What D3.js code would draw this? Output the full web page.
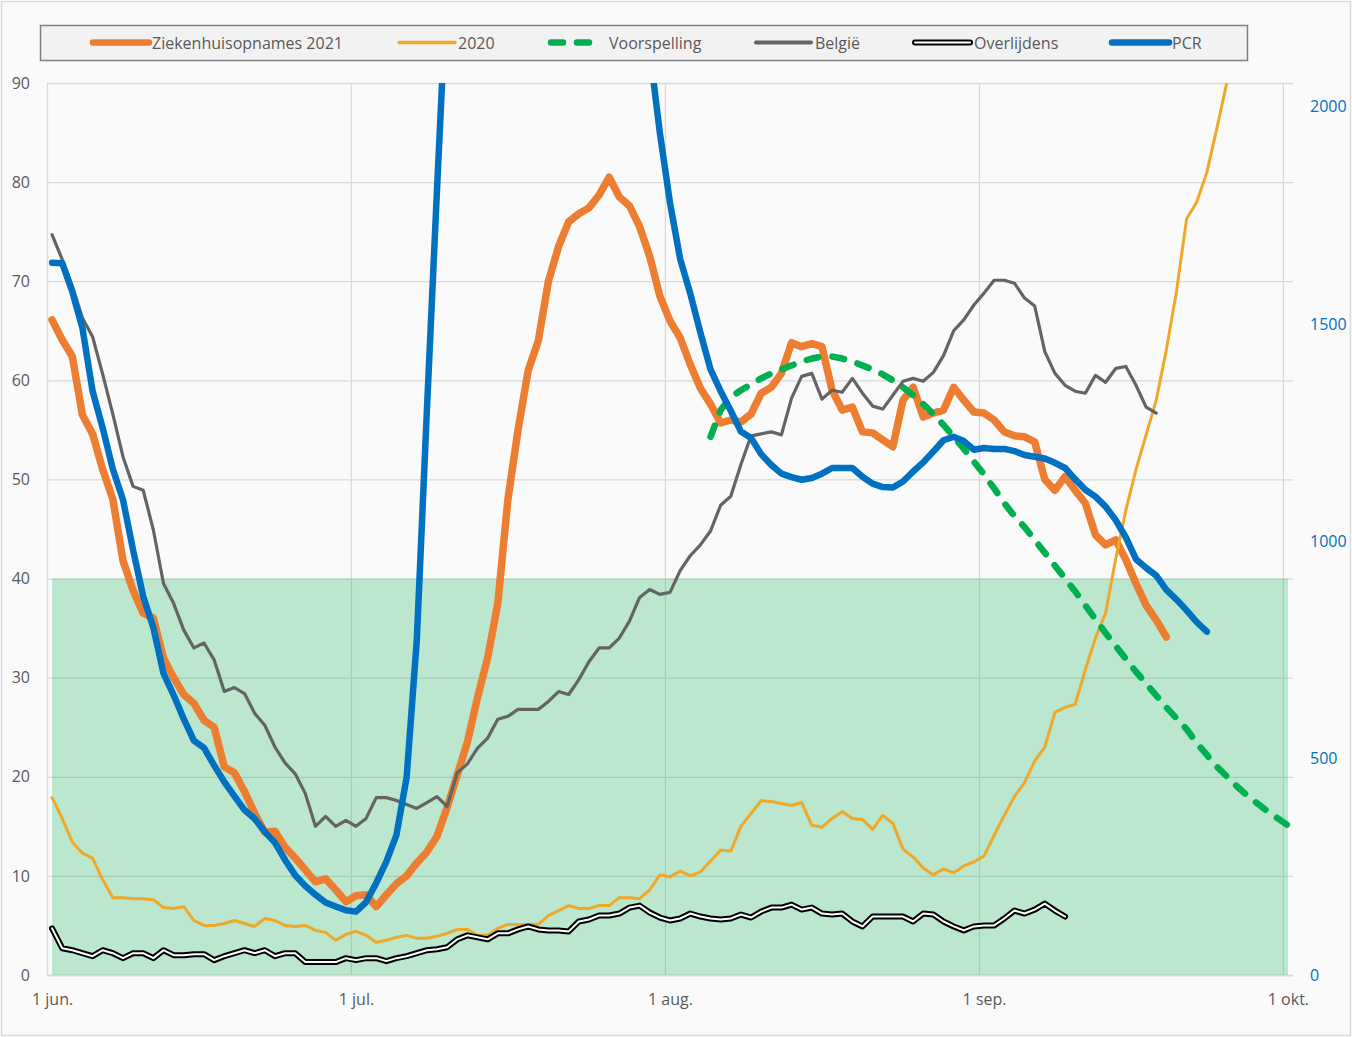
<!DOCTYPE html>
<html><head><meta charset="utf-8">
<script src="https://cdn.jsdelivr.net/npm/d3@7"></script>
<style>
body{margin:0;background:#fff}
text{font-family:"Open Sans",sans-serif}
</style>
</head><body>
<svg id="chart" width="1352" height="1037"></svg>
<script>
// ---------- DATA ----------
const startDate = "2021-06-01";
const endDate = "2021-10-02";
const ziekenhuis2021 = [
66.1,64.1,62.4,56.5,54.6,51,48,41.8,38.8,36.5,
36,32,30,28.3,27.4,25.7,25,21,20.4,18.5,
16.3,14.4,14.5,12.9,11.8,10.6,9.4,9.7,8.6,7.4,
8,8.1,6.9,8.1,9.2,10,11.3,12.4,14,16.9,
20.2,23.5,28,32,37.5,48,55,61,64,70,
73.5,76,76.8,77.4,78.7,80.5,78.5,77.6,75.5,72.5,
68.5,66,64.3,61.6,59.2,57.6,55.7,56,55.8,56.6,
58.7,59.3,60.7,63.8,63.4,63.7,63.4,59,57,57.3,
54.8,54.7,54,53.3,58,59.3,56.3,56.7,57,59.3,
58,56.8,56.7,56,54.8,54.4,54.3,53.8,50,48.9,
50.3,48.9,47.6,44.4,43.4,43.9,41.9,39.5,37.3,35.8,
34.1];
const opnames2020 = [
17.9,15.8,13.4,12.3,11.8,9.6,7.8,7.8,7.7,7.7,
7.6,6.8,6.7,6.9,5.5,5,5,5.2,5.5,5.2,
4.9,5.7,5.5,5,4.9,5,4.5,4.3,3.5,4.1,
4.4,4,3.3,3.5,3.8,4,3.7,3.7,3.9,4.2,
4.6,4.6,4,4,4.7,5.1,5.1,5.1,5.1,6,
6.5,7,6.7,6.7,7,7,7.8,7.8,7.7,8.6,
10.1,9.9,10.5,10,10.4,11.5,12.6,12.5,15,16.3,
17.6,17.5,17.3,17.1,17.4,15.1,14.9,15.8,16.5,15.8,
15.7,14.7,16.1,15.3,12.7,11.9,10.8,10.1,10.7,10.3,
11,11.4,12,14.1,16.1,18,19.4,21.6,23,26.5,
27,27.3,30.8,34,36.5,42,46.9,51,54.5,58,
63.1,69,76.3,78,81,85.5,90.2,94.5];
const voorspellingStart = "2021-08-05";
const voorspelling = [
54.3,57,58.3,59,59.6,60.2,60.7,61.1,61.5,61.9,
62.2,62.4,62.4,62.2,61.9,61.5,61.1,60.6,60,59.3,
58.5,57.6,56.6,55.5,54.3,53.1,51.8,50.5,49.1,47.6,
46.3,45.2,43.9,42.6,41.3,40,38.7,37.3,35.9,34.5,
33.2,31.9,30.6,29.4,28.2,27,25.9,24.8,23.4,22.2,
21,20,19,18.1,17.3,16.5,15.8,15.1];
const belgie = [
74.7,72.2,69.5,66.3,64.4,60.6,56.6,52.3,49.3,48.9,
44.9,39.5,37.5,34.8,33,33.5,31.8,28.6,29,28.4,
26.4,25.2,23,21.4,20.3,18.3,15,16,15,15.6,
15,15.8,17.9,17.9,17.6,17.2,16.8,17.4,18,17,
20.4,21.3,22.9,23.9,25.8,26.1,26.8,26.8,26.8,27.6,
28.6,28.3,29.8,31.6,33,33,34,35.7,38.1,38.9,
38.4,38.6,40.8,42.3,43.4,44.8,47.4,48.3,51.5,54.4,
54.6,54.8,54.5,58.2,60.4,60.7,58.1,59,58.8,60.2,
58.7,57.4,57.1,58.5,59.9,60.2,59.9,60.8,62.5,65,
66.1,67.6,68.8,70.1,70.1,69.8,68.3,67.5,62.9,60.7,
59.5,58.9,58.7,60.5,59.8,61.2,61.4,59.5,57.3,56.7];
const overlijdens = [
4.7,2.7,2.5,2.2,1.9,2.5,2.2,1.7,2.2,2.2,
1.7,2.5,2,2,2.1,2.1,1.5,1.9,2.2,2.5,
2.2,2.5,1.9,2.2,2.2,1.3,1.3,1.3,1.3,1.7,
1.5,1.7,1.7,1.4,1.7,1.9,2.2,2.5,2.6,2.8,
3.6,4,3.8,3.6,4.2,4.2,4.6,4.9,4.6,4.5,
4.5,4.4,5.4,5.6,6,6,6.2,6.8,7,6.3,
5.8,5.5,5.7,6.2,5.9,5.7,5.6,5.7,6.1,5.8,
6.4,6.8,6.8,7.1,6.6,6.8,6.2,6.1,6.2,5.4,
4.9,5.9,5.9,5.9,5.9,5.4,6.2,6.1,5.4,4.9,
4.5,4.9,5,5,5.7,6.5,6.2,6.6,7.2,6.5,
5.9];
// PCR (right axis); null = far above the visible range, not readable
const pcr = [
1641,1640,1574,1490,1345,1260,1165,1095,979,872,
800,695,645,590,540,523,483,445,412,380,
360,330,305,265,230,205,185,167,158,149,
146,168,212,261,323,455,770,1300,1810,2300,
null,null,null,null,null,null,null,null,null,null,
null,null,null,null,null,null,null,null,
2350,2130,1940,1779,1650,1570,1480,1395,1345,1300,
1252,1237,1200,1175,1155,1147,1141,1145,1155,1168,
1168,1168,1148,1132,1124,1123,1137,1160,1181,1206,
1232,1240,1230,1210,1214,1212,1212,1207,1198,1194,
1190,1180,1168,1142,1118,1102,1079,1048,1008,958,
938,920,887,865,840,813,791];
const safeLevel = 40;
const safeDays = 123;
const leftTicks = [0,10,20,30,40,50,60,70,80,90];
const rightTicks = [0,500,1000,1500,2000];
const monthTicks = ["2021-06-01","2021-07-01","2021-08-01","2021-09-01","2021-10-01"];
const monthLabels = ["1 jun.","1 jul.","1 aug.","1 sep.","1 okt."];
const legendNames = ["Ziekenhuisopnames 2021","2020","Voorspelling","België","Overlijdens","PCR"];

// ---------- LAYOUT ----------
const W = 1352, H = 1037;
const L = 47, R = 1293, T = 83, B = 975;
const DAY = 864e5;
const parse = s => new Date(s + "T00:00:00Z");
const t0 = parse(startDate);
const dayMid = (start, i) => new Date(start.getTime() + (i + 0.5) * DAY);

const x = d3.scaleUtc().domain([t0, parse(endDate)]).range([L, R]);
const yL = d3.scaleLinear().domain([0, 90]).range([B, T]);
const yR = d3.scaleLinear().domain([0, 2055]).range([B, T]);

const svg = d3.select("#chart");
svg.append("rect").attr("x",1.5).attr("y",1.5).attr("width",W-3).attr("height",H-3)
  .attr("fill","#FAFAFA").attr("stroke","#D9D9D9").attr("stroke-width",1.5);

// gridlines
const gH = svg.append("g").attr("transform",`translate(${L},0)`)
  .call(d3.axisLeft(yL).tickValues(leftTicks).tickSize(-(R-L)).tickFormat(""));
gH.select(".domain").remove();
gH.selectAll("line").attr("stroke","#D9D9D9").attr("stroke-width",d=>d===0?2:1.3);
const gV = svg.append("g").attr("transform",`translate(0,${B})`)
  .call(d3.axisBottom(x).tickValues(monthTicks.map(parse)).tickSize(-(B-T)).tickFormat(""));
gV.select(".domain").remove();
gV.selectAll("line").attr("stroke","#D9D9D9").attr("stroke-width",1.3);

// clip
svg.append("clipPath").attr("id","plot").append("rect")
  .attr("x",L).attr("y",T).attr("width",R-L).attr("height",B-T);
const plot = svg.append("g").attr("clip-path","url(#plot)");

// green safe band
const band = d3.range(safeDays).map(i => ({t: dayMid(t0,i), v: safeLevel}));
plot.append("path").datum(band)
  .attr("d", d3.area().x(d=>x(d.t)).y0(yL(0)).y1(d=>yL(d.v)))
  .attr("fill","#00B050").attr("fill-opacity",0.255);

function series(arr, start) {
  const s = parse(start);
  return arr.map((v,i) => ({t: dayMid(s,i), v}));
}
const lineL = d3.line().defined(d=>d.v!=null).x(d=>x(d.t)).y(d=>yL(d.v));
const lineR = d3.line().defined(d=>d.v!=null).x(d=>x(d.t)).y(d=>yR(d.v));

function draw(data, gen, color, width, extra) {
  const p = plot.append("path").datum(data).attr("d", gen)
    .attr("fill","none").attr("stroke",color).attr("stroke-width",width)
    .attr("stroke-linejoin","round").attr("stroke-linecap","round");
  if (extra) extra(p);
  return p;
}
draw(series(ziekenhuis2021,startDate), lineL, "#ED7D31", 7.5);
draw(series(opnames2020,startDate), lineL, "#F0A82A", 3);
draw(series(voorspelling,voorspellingStart), lineL, "#00B050", 6.5, p=>p.attr("stroke-dasharray","12,14"));
draw(series(belgie,startDate), lineL, "#646464", 3.2);
draw(series(overlijdens,startDate), lineL, "#000000", 6);
draw(series(overlijdens,startDate), lineL, "#FFFFFF", 2);
draw(series(pcr,startDate), lineR, "#0070C0", 6.5);

// axes labels
const axL = svg.append("g").attr("transform",`translate(${L},0)`)
  .call(d3.axisLeft(yL).tickValues(leftTicks).tickSize(0).tickPadding(17));
axL.select(".domain").remove();
axL.selectAll("text").attr("fill","#595959").style("font-size","16px").style("font-family","'Open Sans',sans-serif");
const axR = svg.append("g").attr("transform",`translate(${R},0)`)
  .call(d3.axisRight(yR).tickValues(rightTicks).tickSize(0).tickPadding(17).tickFormat(d3.format("d")));
axR.select(".domain").remove();
axR.selectAll("text").attr("fill","#0070C0").style("font-size","16px").style("font-family","'Open Sans',sans-serif");
const axB = svg.append("g").attr("transform",`translate(0,${B})`)
  .call(d3.axisBottom(x).tickValues(monthTicks.map(s=>dayMid(parse(s),0))).tickSize(0).tickPadding(19)
    .tickFormat((d,i)=>monthLabels[i]));
axB.select(".domain").remove();
axB.selectAll("text").attr("fill","#595959").style("font-size","16px").style("font-family","'Open Sans',sans-serif");

// legend
const lg = svg.append("g");
lg.append("rect").attr("x",40.5).attr("y",25.5).attr("width",1207).attr("height",35)
  .attr("fill","#F2F2F2").attr("stroke","#7F7F7F").attr("stroke-width",1.5);
const legendPos = [[93,149,152],[399,455,458],[548,596,609],[756,811,815],[915,970,974],[1112,1169,1172]];
const ly = 42.5;
const styles = [
  {c:"#ED7D31",w:6.5},{c:"#F0A82A",w:3.5},{c:"#00B050",w:6.5,dash:"12,14"},
  {c:"#646464",w:4},{c:"#000000",w:6,inner:true},{c:"#0070C0",w:6.5}];
legendNames.forEach((name,i)=>{
  const [x1,x2,tx] = legendPos[i], s = styles[i];
  const ln = lg.append("line").attr("x1",x1).attr("x2",x2).attr("y1",ly).attr("y2",ly)
    .attr("stroke",s.c).attr("stroke-width",s.w).attr("stroke-linecap","round");
  if (s.dash) ln.attr("stroke-dasharray",s.dash).attr("x1",x1+3);
  if (s.inner) lg.append("line").attr("x1",x1).attr("x2",x2).attr("y1",ly).attr("y2",ly)
    .attr("stroke","#fff").attr("stroke-width",2).attr("stroke-linecap","round");
  lg.append("text").attr("x",tx).attr("y",ly).attr("dominant-baseline","central")
    .attr("fill","#595959").style("font-size","16px").text(name);
});
</script>
</body></html>
